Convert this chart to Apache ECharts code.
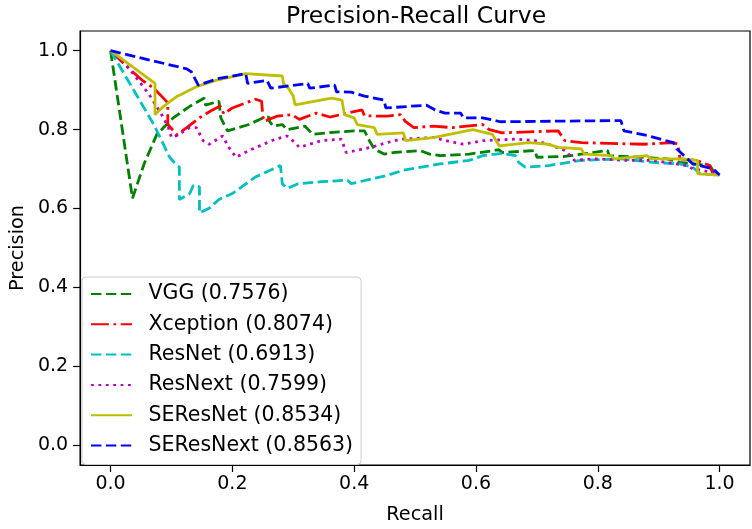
<!DOCTYPE html>
<html>
<head>
<meta charset="utf-8">
<script src="https://cdn.jsdelivr.net/npm/echarts@6/dist/echarts.min.js"></script>
<style>html,body{margin:0;padding:0;background:#fff;}#c{width:752px;height:529px;}</style>
</head>
<body>
<div id="c"></div>
<script>
const tickValues = [0, 0.2, 0.4, 0.6, 0.8, 1.0];
const seriesNames = ['VGG (0.7576)', 'Xception (0.8074)', 'ResNet (0.6913)', 'ResNext (0.7599)', 'SEResNet (0.8534)', 'SEResNext (0.8563)'];

const vgg = [[0,1],[0.036,0.626],[0.055,0.713],[0.076,0.788],[0.103,0.83],[0.13,0.859],[0.154,0.88],[0.156,0.862],[0.178,0.872],[0.181,0.83],[0.192,0.797],[0.227,0.813],[0.251,0.83],[0.26,0.832],[0.261,0.821],[0.267,0.809],[0.282,0.813],[0.29,0.8],[0.319,0.809],[0.332,0.788],[0.357,0.792],[0.4,0.797],[0.417,0.797],[0.425,0.772],[0.433,0.751],[0.449,0.738],[0.465,0.742],[0.508,0.747],[0.524,0.738],[0.541,0.734],[0.589,0.738],[0.638,0.749],[0.643,0.742],[0.697,0.747],[0.70,0.73],[0.746,0.732],[0.816,0.747],[0.819,0.734],[0.87,0.73],[0.914,0.726],[0.935,0.717],[0.984,0.709],[0.989,0.697],[1.0,0.685]];

const xception = [[0,1],[0.033,0.951],[0.052,0.925],[0.071,0.905],[0.088,0.878],[0.094,0.868],[0.094,0.813],[0.109,0.787],[0.125,0.805],[0.146,0.83],[0.165,0.848],[0.18,0.86],[0.186,0.84],[0.2,0.855],[0.238,0.877],[0.248,0.872],[0.25,0.835],[0.252,0.821],[0.273,0.834],[0.298,0.838],[0.31,0.826],[0.338,0.842],[0.36,0.832],[0.413,0.85],[0.417,0.835],[0.454,0.834],[0.476,0.838],[0.484,0.821],[0.498,0.805],[0.53,0.809],[0.562,0.805],[0.611,0.813],[0.622,0.8],[0.643,0.792],[0.735,0.797],[0.746,0.772],[0.773,0.767],[0.875,0.763],[0.924,0.767],[0.932,0.763],[0.935,0.726],[0.962,0.722],[0.984,0.709],[0.989,0.688],[1.0,0.685]];

const resnet = [[0,1],[0.071,0.813],[0.097,0.73],[0.109,0.709],[0.113,0.705],[0.113,0.623],[0.13,0.638],[0.136,0.659],[0.146,0.655],[0.146,0.589],[0.162,0.601],[0.178,0.623],[0.2,0.638],[0.238,0.68],[0.279,0.709],[0.282,0.663],[0.29,0.651],[0.308,0.663],[0.346,0.668],[0.389,0.672],[0.395,0.663],[0.454,0.684],[0.481,0.697],[0.541,0.713],[0.589,0.722],[0.611,0.734],[0.643,0.74],[0.665,0.734],[0.67,0.717],[0.681,0.705],[0.719,0.709],[0.773,0.722],[0.838,0.726],[0.891,0.717],[0.935,0.713],[0.956,0.705],[0.968,0.688],[1.0,0.685]];

const resnext = [[0,1],[0.022,0.971],[0.043,0.93],[0.063,0.89],[0.079,0.85],[0.087,0.83],[0.095,0.805],[0.1,0.78],[0.109,0.785],[0.13,0.805],[0.141,0.805],[0.152,0.772],[0.162,0.763],[0.184,0.784],[0.194,0.755],[0.206,0.73],[0.227,0.747],[0.271,0.776],[0.29,0.784],[0.303,0.767],[0.31,0.755],[0.346,0.772],[0.379,0.776],[0.387,0.742],[0.427,0.755],[0.454,0.767],[0.476,0.776],[0.53,0.78],[0.551,0.772],[0.579,0.763],[0.611,0.772],[0.665,0.776],[0.697,0.772],[0.719,0.763],[0.746,0.747],[0.762,0.722],[0.794,0.726],[0.849,0.722],[0.891,0.722],[0.946,0.709],[0.956,0.701],[0.989,0.692],[1.0,0.685]];

const seresnet = [[0,1],[0.073,0.917],[0.073,0.838],[0.087,0.859],[0.109,0.884],[0.141,0.909],[0.173,0.925],[0.222,0.942],[0.282,0.936],[0.284,0.917],[0.292,0.905],[0.3,0.885],[0.303,0.863],[0.363,0.88],[0.38,0.875],[0.384,0.838],[0.40,0.83],[0.405,0.813],[0.433,0.805],[0.438,0.788],[0.481,0.792],[0.484,0.772],[0.53,0.78],[0.595,0.8],[0.627,0.788],[0.638,0.759],[0.687,0.767],[0.719,0.763],[0.735,0.755],[0.773,0.751],[0.778,0.738],[0.822,0.734],[0.827,0.726],[0.881,0.734],[0.887,0.726],[0.94,0.726],[0.964,0.722],[0.964,0.688],[1.0,0.685]];

const seresnext = [[0,1],[0.125,0.954],[0.133,0.946],[0.144,0.913],[0.176,0.929],[0.222,0.942],[0.225,0.917],[0.257,0.925],[0.263,0.905],[0.324,0.917],[0.327,0.905],[0.368,0.913],[0.371,0.896],[0.395,0.895],[0.417,0.885],[0.449,0.875],[0.452,0.855],[0.519,0.862],[0.533,0.85],[0.549,0.842],[0.575,0.842],[0.579,0.83],[0.611,0.83],[0.64,0.82],[0.838,0.823],[0.843,0.797],[0.881,0.785],[0.903,0.776],[0.924,0.767],[0.93,0.751],[0.956,0.713],[0.989,0.701],[1.0,0.685]];

const allData = [vgg, xception, resnet, resnext, seresnet, seresnext];
const colors = ['#008000', '#ff0000', '#00bfbf', '#bf00bf', '#bfbf00', '#0000ff'];
const LW = 2.8;
const dashes = [[10.4,4.5],[17.9,4.5,2.8,4.5],[10.4,4.5],[2.8,4.6],'solid',[10.4,4.5]];

const font = 'DejaVu Sans';
const chart = echarts.init(document.getElementById('c'), null, {renderer: 'canvas'});
const axisCommon = {
  type: 'value', min: -0.05, max: 1.05,
  axisLine: {show: true, onZero: false, lineStyle: {color: '#000', width: 1.2}},
  axisTick: {show: true, length: 7, inside: false, customValues: tickValues, lineStyle: {color: '#000', width: 1.2}},
  axisLabel: {customValues: tickValues, color: '#000', fontSize: 19, fontFamily: font, formatter: v => v.toFixed(1)},
  splitLine: {show: false},
  nameTextStyle: {color: '#000', fontSize: 19.3, fontFamily: font}
};
chart.setOption({
  animation: false,
  backgroundColor: '#fff',
  title: {text: 'Precision-Recall Curve', left: 411, top: 0, textAlign: 'center',
    textStyle: {color: '#000', fontSize: 23.5, fontWeight: 'normal', fontFamily: font}},
  grid: {left: 72, right: 2, top: 31, bottom: 57, show: true, borderColor: '#000', borderWidth: 1.2, containLabel: false},
  xAxis: Object.assign({}, axisCommon, {name: 'Recall', nameLocation: 'middle', nameGap: 40,
    axisLabel: Object.assign({}, axisCommon.axisLabel, {margin: 10})}),
  yAxis: Object.assign({}, axisCommon, {name: 'Precision', nameLocation: 'middle', nameGap: 53,
    axisLabel: Object.assign({}, axisCommon.axisLabel, {margin: 12})}),
  legend: {
    orient: 'vertical', left: 82, top: 277,
    padding: [6.5, 8, 8.5, 8], itemGap: 9.3, itemWidth: 41, itemHeight: 14,
    backgroundColor: 'rgba(255,255,255,0.8)', borderColor: '#cccccc', borderWidth: 1, borderRadius: 4,
    itemStyle: {opacity: 0},
    textStyle: {color: '#000', fontSize: 20.5, fontFamily: font, lineHeight: 20.5, padding: [0, 0, 0, 11.5]},
    data: seriesNames
  },
  series: allData.map((d, i) => ({
    name: seriesNames[i], type: 'line', data: d, symbol: 'none', showSymbol: false,
    lineStyle: {color: colors[i], width: LW, type: dashes[i], cap: 'butt'},
    itemStyle: {color: colors[i]},
    clip: true
  }))
});
</script>
</body>
</html>
